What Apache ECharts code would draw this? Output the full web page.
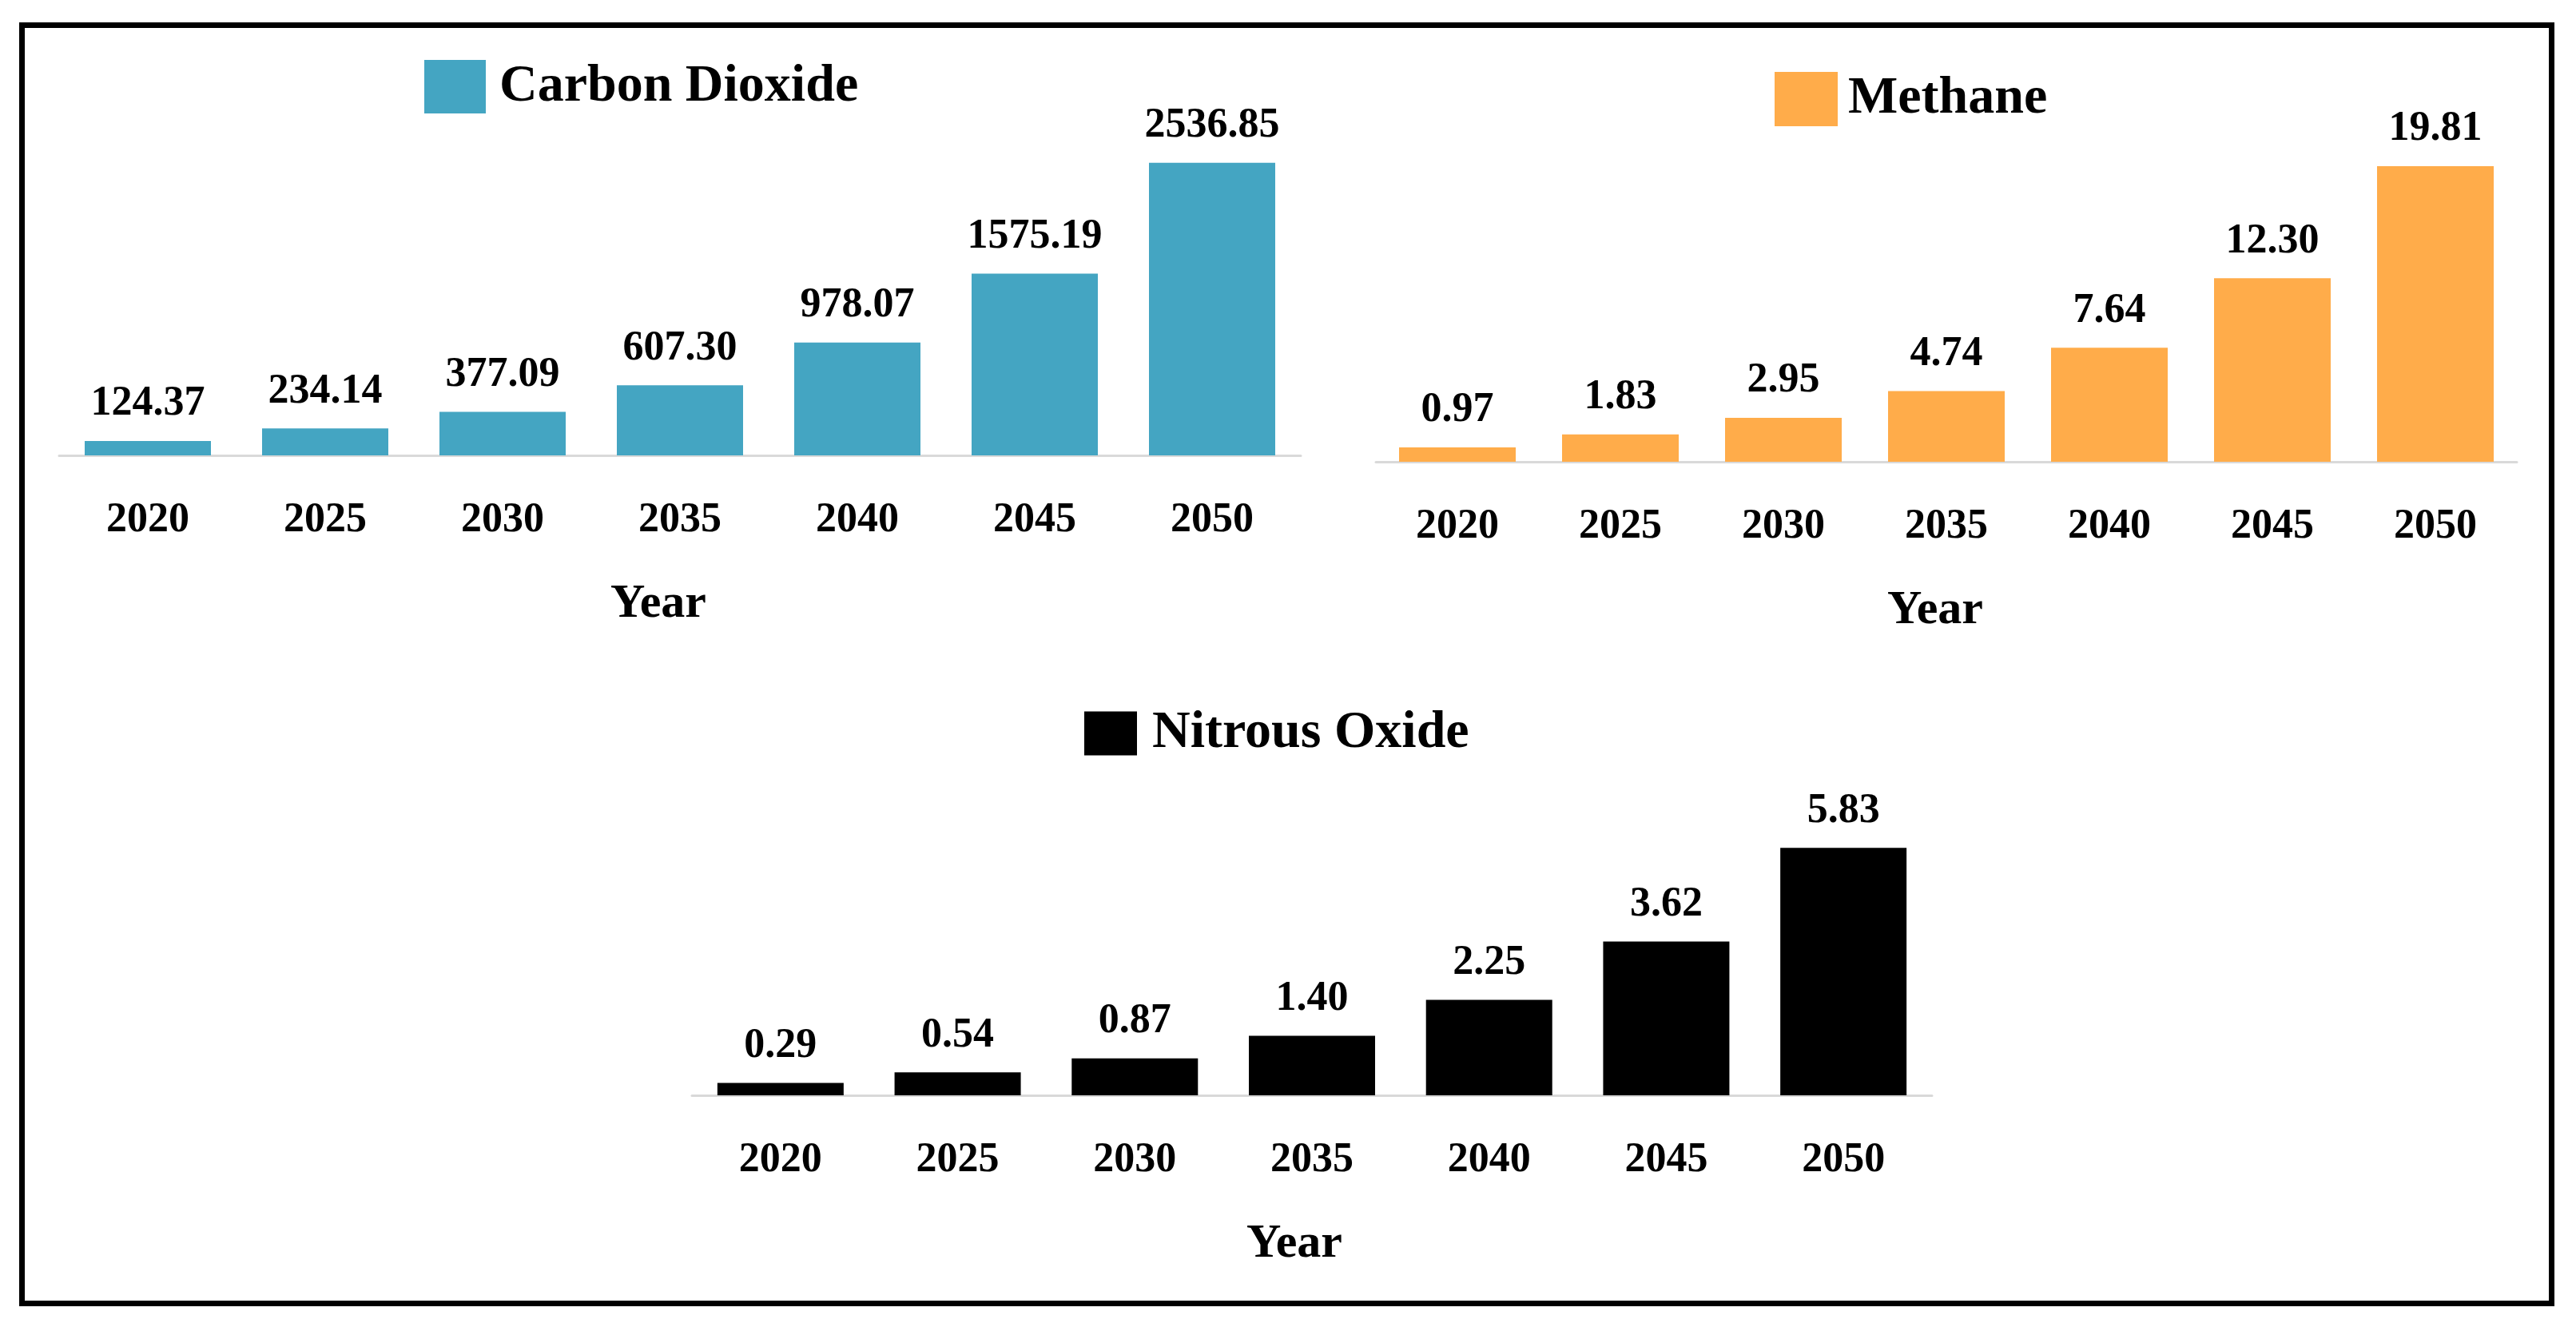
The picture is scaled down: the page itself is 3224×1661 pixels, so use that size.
<!DOCTYPE html>
<html>
<head>
<meta charset="utf-8">
<script src="https://cdn.jsdelivr.net/npm/echarts@6/dist/echarts.min.js"></script>
<style>
html,body{margin:0;padding:0;background:#fff;}
#c{width:3224px;height:1661px;}
</style>
</head>
<body>
<div id="c"></div>
<script>
var years = ['2020','2025','2030','2035','2040','2045','2050'];
var co2 = [124.37, 234.14, 377.09, 607.30, 978.07, 1575.19, 2536.85];
var methane = [0.97, 1.83, 2.95, 4.74, 7.64, 12.30, 19.81];
var nitrous = [0.29, 0.54, 0.87, 1.40, 2.25, 3.62, 5.83];
var seriesNames = ['Carbon Dioxide', 'Methane', 'Nitrous Oxide'];
var colors = ['#44A5C2', '#FFAC4A', '#000000'];

var FONT = '"Liberation Serif", "Times New Roman", serif';

function xAx(gi, shift) {
  return {
    type: 'category', gridIndex: gi, data: years,
    axisLine: {show: true, lineStyle: {color: '#d9d9d9', width: 3}},
    axisTick: {show: false},
    axisLabel: {margin: 56, fontFamily: FONT, fontWeight: 'bold', fontSize: 52, color: '#000'},
    name: 'Year', nameLocation: 'middle', nameGap: 156,
    nameTextStyle: {fontFamily: FONT, fontWeight: 'bold', fontSize: 60, color: '#000', padding: [0, shift, 0, 0]}
  };
}
function yAx(gi, max) {
  return {type: 'value', gridIndex: gi, min: 0, max: max, show: false, splitLine: {show: false}};
}
function bar(i, data, w) {
  return {
    name: seriesNames[i], type: 'bar', xAxisIndex: i, yAxisIndex: i, data: data,
    barWidth: w, itemStyle: {color: colors[i]},
    label: {show: true, position: 'top', distance: 20, fontFamily: FONT, fontWeight: 'bold', fontSize: 52, color: '#000',
      formatter: function (p) { return p.value.toFixed(2); }}
  };
}
function leg(i, left, top, iw, ih, pad) {
  return {
    data: [seriesNames[i]], left: left, top: top, itemWidth: iw, itemHeight: ih, icon: 'rect',
    selectedMode: false,
    textStyle: {fontFamily: FONT, fontWeight: 'bold', fontSize: 66, color: '#000', padding: [0, 0, 0, pad]}
  };
}

var chart = echarts.init(document.getElementById('c'));
chart.setOption({
  backgroundColor: '#fff',
  animation: false,
  graphic: [{
    type: 'rect', shape: {x: 27.5, y: 31.5, width: 3166, height: 1600},
    style: {fill: 'none', stroke: '#000', lineWidth: 7}, z: 100
  }],
  legend: [
    leg(0, 526, 70, 77, 67, 12),
    leg(1, 2216, 85, 79, 68, 8),
    leg(2, 1352, 880, 66, 55, 14)
  ],
  grid: [
    {left: 74, width: 1554, top: 160, height: 410},
    {left: 1722, width: 1428, top: 167, height: 411},
    {left: 866, width: 1552, top: 999, height: 372}
  ],
  xAxis: [xAx(0, 54), xAx(1, 28), xAx(2, 44)],
  yAxis: [yAx(0, 2840), yAx(1, 22), yAx(2, 7)],
  series: [bar(0, co2, 158), bar(1, methane, 146), bar(2, nitrous, 158)]
});
</script>
</body>
</html>
